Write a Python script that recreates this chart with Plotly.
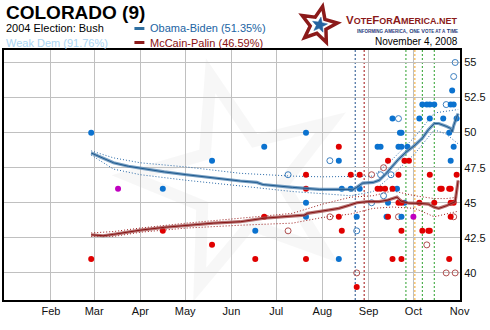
import math
import plotly.graph_objects as go

# ---------------- poll results ----------------
obama_dates = ['2008-02-28', '2008-04-16', '2008-05-19', '2008-06-17', '2008-06-23',
               '2008-07-21', '2008-07-21', '2008-07-21', '2008-08-12', '2008-08-12',
               '2008-08-14', '2008-08-20', '2008-08-24', '2008-08-26', '2008-09-07',
               '2008-09-09', '2008-09-13', '2008-09-14', '2008-09-17', '2008-09-20',
               '2008-09-21', '2008-09-22', '2008-09-23', '2008-09-23', '2008-09-23',
               '2008-09-25', '2008-09-27', '2008-10-05', '2008-10-07', '2008-10-10',
               '2008-10-12', '2008-10-12', '2008-10-15', '2008-10-21', '2008-10-25',
               '2008-10-26', '2008-10-26', '2008-10-27', '2008-10-28', '2008-10-28',
               '2008-10-30']
obama_vals = [50, 46, 48, 43, 49,
              50, 45, 44, 48, 41,
              46, 46, 44, 46, 49,
              49, 44, 45, 51, 46,
              49, 50, 50, 49, 44,
              45, 49, 51, 52, 52,
              52, 51, 52, 51, 50,
              52, 48, 53, 52, 49,
              51]

obama_open_dates = ['2008-07-09', '2008-08-06', '2008-08-24', '2008-09-03', '2008-09-09',
                    '2008-09-11', '2008-09-16', '2008-09-21', '2008-10-23', '2008-10-28',
                    '2008-10-29']
obama_open_vals = [47, 48, 43, 45, 47, 45.5, 47, 51, 52, 54, 55]

mccain_dates = ['2008-02-28', '2008-04-16', '2008-05-19', '2008-06-17', '2008-06-23',
                '2008-07-21', '2008-07-21', '2008-07-21', '2008-08-12', '2008-08-12',
                '2008-08-14', '2008-08-20', '2008-08-24', '2008-08-26', '2008-09-07',
                '2008-09-09', '2008-09-12', '2008-09-14', '2008-09-14', '2008-09-17',
                '2008-09-17', '2008-09-21', '2008-09-21', '2008-09-23', '2008-09-23',
                '2008-09-23', '2008-09-25', '2008-09-28', '2008-10-05', '2008-10-07',
                '2008-10-11', '2008-10-12', '2008-10-12', '2008-10-15', '2008-10-19',
                '2008-10-20', '2008-10-25', '2008-10-25', '2008-10-26', '2008-10-26',
                '2008-10-26', '2008-10-28', '2008-10-30']
mccain_vals = [41, 43, 42, 41, 44,
               47, 46, 41, 49, 44,
               43, 47, 39, 47, 46,
               46, 46, 48, 44, 46,
               41, 47, 45, 45, 43,
               41, 48, 48, 45, 43,
               43, 47, 43, 45, 46,
               46, 46, 41, 46, 45,
               44, 45, 47]

mccain_open_dates = ['2008-07-09', '2008-08-06', '2008-08-24', '2008-09-03', '2008-09-11',
                     '2008-09-21', '2008-10-10', '2008-10-23', '2008-10-28', '2008-10-29']
mccain_open_vals = [43, 44, 40, 47, 47.5, 44, 42, 40, 44, 40]

# polls where both candidates had the same share
tie_dates = ['2008-03-17', '2008-10-01']
tie_vals = [46, 44]

# ---------------- trend estimates ----------------
obama_trend_dates = ['2008-02-28', '2008-03-07', '2008-03-14', '2008-03-24', '2008-04-01',
                     '2008-04-17', '2008-05-02', '2008-05-20', '2008-06-07', '2008-06-18',
                     '2008-06-22', '2008-07-12', '2008-07-21', '2008-07-30', '2008-08-19',
                     '2008-08-21', '2008-08-24', '2008-08-28', '2008-09-04', '2008-09-08',
                     '2008-09-12', '2008-09-17', '2008-09-21', '2008-09-26', '2008-10-02',
                     '2008-10-07', '2008-10-11', '2008-10-15', '2008-10-18', '2008-10-23',
                     '2008-10-26', '2008-10-27', '2008-10-28', '2008-10-30', '2008-10-31']
obama_trend = [48.55, 48.15, 47.85, 47.6, 47.45,
               47.2, 47.0, 46.75, 46.55, 46.45,
               46.3, 46.1, 46.05, 45.95, 45.95,
               45.9, 46.1, 46.4, 46.45, 46.6,
               47.0, 47.6, 48.1, 48.6, 49.1,
               49.6, 50.2, 50.65, 50.65, 50.45,
               50.3, 50.05, 50.5, 51.1, 51.35]

mccain_trend_dates = ['2008-02-28', '2008-03-07', '2008-03-14', '2008-04-01', '2008-04-17',
                      '2008-05-02', '2008-05-20', '2008-06-07', '2008-06-23', '2008-07-20',
                      '2008-07-22', '2008-08-05', '2008-08-12', '2008-08-19', '2008-08-24',
                      '2008-08-31', '2008-09-08', '2008-09-14', '2008-09-20', '2008-09-23',
                      '2008-09-28', '2008-10-05', '2008-10-11', '2008-10-15', '2008-10-18',
                      '2008-10-23', '2008-10-27', '2008-10-29', '2008-10-31']
mccain_trend = [42.72, 42.65, 42.75, 43.05, 43.25,
                43.4, 43.55, 43.65, 43.9, 44.12,
                44.25, 44.48, 44.6, 44.82, 45.0,
                45.08, 45.08, 45.2, 45.4, 45.1,
                44.97, 44.96, 44.9, 44.68, 44.6,
                44.78, 44.96, 45.08, 46.59]

# confidence band around each trend
band_dates = ['2008-02-28', '2008-03-14', '2008-04-01', '2008-05-02', '2008-06-07',
              '2008-07-12', '2008-08-01', '2008-08-20', '2008-09-04', '2008-09-17',
              '2008-10-02', '2008-10-15', '2008-10-23', '2008-10-31']
obama_hi = [48.7, 48.2, 47.85, 47.55, 47.1, 46.9, 46.85, 46.85, 46.9, 48.1, 49.7, 51.4, 51.5, 51.65]
obama_lo = [48.4, 47.4, 47.0, 46.6, 46.2, 45.8, 45.65, 45.5, 45.8, 47.0, 48.5, 50.2, 49.9, 49.2]
mccain_hi = [42.85, 42.95, 43.2, 43.55, 43.9, 44.25, 44.9, 45.4, 45.5, 45.85, 45.5, 45.3, 45.3, 45.4]
mccain_lo = [42.6, 42.6, 42.9, 43.2, 43.4, 43.55, 43.95, 44.2, 44.6, 44.7, 44.6, 44.0, 44.2, 44.4]

# campaign events: VP picks and debates
event_dates = ['2008-08-23', '2008-08-29', '2008-09-26', '2008-10-02', '2008-10-07', '2008-10-15']
event_colors = ['#1f4e8c', '#a01010', '#2ca02c', '#f5a623', '#2ca02c', '#2ca02c']

month_ticks = ['2008-02-01', '2008-03-01', '2008-04-01', '2008-05-01', '2008-06-01',
               '2008-07-01', '2008-08-01', '2008-09-01', '2008-10-01', '2008-11-01']
y_ticks = [40, 42.5, 45, 47.5, 50, 52.5, 55]

OBAMA_BLUE = '#0b72cf'
MCCAIN_RED = '#e00000'
FONT = 'Liberation Sans, Arial, sans-serif'

# plot frame in pixels (used to place header items in paper units)
PL, PR, PT, PB = 2, 460, 50, 300
W, H = 490, 330


def px(x):
    return (x - PL) / (PR - PL)


def py(y):
    return (PB - y) / (PB - PT)


def star_path(cx, cy, R, r, rot):
    pts = []
    for i in range(10):
        a = math.radians(rot + i * 36)
        rad = R if i % 2 == 0 else r
        pts.append((cx + rad * math.cos(a), cy + rad * math.sin(a)))
    return 'M ' + ' L '.join(f'{px(x):.5f},{py(y):.5f}' for x, y in pts) + ' Z'


fig = go.Figure()

# dotted confidence bands
for hi, lo, col in [(obama_hi, obama_lo, '#2a6aa8'), (mccain_hi, mccain_lo, '#9b1c1c')]:
    for vals in (hi, lo):
        fig.add_trace(go.Scatter(x=band_dates, y=vals, mode='lines',
                                 line=dict(color=col, width=1, dash='1px,2px'),
                                 hoverinfo='skip', showlegend=False))

# poll markers
fig.add_trace(go.Scatter(x=obama_open_dates, y=obama_open_vals, mode='markers',
                         marker=dict(symbol='circle-open', size=6, color='#3d7fbf',
                                     line=dict(width=1)), showlegend=False))
fig.add_trace(go.Scatter(x=mccain_open_dates, y=mccain_open_vals, mode='markers',
                         marker=dict(symbol='circle-open', size=6, color='#b05050',
                                     line=dict(width=1)), showlegend=False))
fig.add_trace(go.Scatter(x=obama_dates, y=obama_vals, mode='markers',
                         marker=dict(size=6, color=OBAMA_BLUE), showlegend=False))
fig.add_trace(go.Scatter(x=mccain_dates, y=mccain_vals, mode='markers',
                         marker=dict(size=6, color=MCCAIN_RED), showlegend=False))
fig.add_trace(go.Scatter(x=tie_dates, y=tie_vals, mode='markers',
                         marker=dict(size=6, color='#c000c0'), showlegend=False))

# trend lines: soft halo plus darker core
for d, v, halo, core in [(obama_trend_dates, obama_trend, 'rgba(85,135,180,0.8)', '#1f5a8e'),
                         (mccain_trend_dates, mccain_trend, 'rgba(165,80,80,0.8)', '#861414')]:
    fig.add_trace(go.Scatter(x=d, y=v, mode='lines', line=dict(color=halo, width=3.2),
                             hoverinfo='skip', showlegend=False))
    fig.add_trace(go.Scatter(x=d, y=v, mode='lines', line=dict(color=core, width=1),
                             hoverinfo='skip', showlegend=False))

shapes = []
# faint watermark star
shapes.append(dict(type='path', xref='paper', yref='paper', layer='below',
                   path=star_path(238, 182, 110, 44, -105),
                   line=dict(color='rgba(0,0,0,0.03)', width=12), fillcolor='rgba(0,0,0,0)'))
# event markers
for d, c in zip(event_dates, event_colors):
    shapes.append(dict(type='line', xref='x', yref='paper', x0=d, x1=d, y0=0, y1=1,
                       layer='between', line=dict(color=c, width=1, dash='2px,2px')))
# legend swatches
shapes.append(dict(type='line', xref='paper', yref='paper', x0=px(133), x1=px(143),
                   y0=py(28.5), y1=py(28.5), line=dict(color='#2f6fa0', width=3)))
shapes.append(dict(type='line', xref='paper', yref='paper', x0=px(133), x1=px(143),
                   y0=py(42.5), y1=py(42.5), line=dict(color='#8b1a1a', width=3)))
# logo star
shapes.append(dict(type='path', xref='paper', yref='paper',
                   path=star_path(318, 25, 19, 8.5, -78),
                   line=dict(color='#8b1a1a', width=3.5), fillcolor='white'))
shapes.append(dict(type='path', xref='paper', yref='paper',
                   path=star_path(319, 25, 8, 3.4, -80),
                   line=dict(color='#2563a0', width=0.5), fillcolor='#2563a0'))


def note(text, x, y, size, color='#000000', anchor='left'):
    return dict(text=text, xref='paper', yref='paper', x=px(x), y=py(y),
                xanchor=anchor, yanchor='middle', showarrow=False,
                font=dict(family=FONT, size=size, color=color))


sc = '<span style="font-size:9px">'
tg = '<span style="font-size:4.5px">'
annotations = [
    note('<b>COLORADO (9)</b>', 2, 12, 19),
    note('2004 Election: Bush', 2, 28.5, 11),
    note('Weak Dem (91.76%)', 2, 43, 11, '#a9d4f2'),
    note('Obama-Biden (51.35%)', 147, 28.5, 11, '#2164a3'),
    note('McCain-Palin (46.59%)', 147, 43, 11, '#8b1111'),
    note('<b>V' + sc + 'OTE</span>F' + sc + 'OR</span>A' + sc + 'MERICA.NET</span></b>',
         460, 20, 11.5, '#8b1a1a', 'right'),
    note('<b>I' + tg + 'NFORMING</span> A' + tg + 'MERICA</span>, O' + tg + 'NE</span> V'
         + tg + 'OTE AT A</span> T' + tg + 'IME</span></b>', 460, 31, 5.5, '#1f3a7a', 'right'),
    note('November 4, 2008', 460, 41.5, 10, '#000000', 'right'),
]

fig.update_layout(
    width=W, height=H,
    margin=dict(l=PL, r=W - PR, t=PT, b=H - PB, pad=0),
    paper_bgcolor='white', plot_bgcolor='white',
    font=dict(family=FONT, size=11, color='#111111'),
    shapes=shapes, annotations=annotations,
    showlegend=False,
)
fig.update_xaxes(type='date', range=['2007-12-31 13:00', '2008-11-01 06:00'],
                 tickvals=month_ticks, tickformat='%b', ticks='',
                 showgrid=True, gridcolor='#c0c0c0', gridwidth=1,
                 showline=True, linecolor='black', linewidth=2, mirror=True,
                 zeroline=False, tickfont=dict(size=11, color='#111111'))
fig.update_yaxes(range=[38.07, 55.89], tickvals=y_ticks, side='right', ticks='',
                 showgrid=True, gridcolor='#c0c0c0', gridwidth=1,
                 showline=True, linecolor='black', linewidth=2, mirror=True,
                 zeroline=False, tickfont=dict(size=11, color='#111111'))

fig.write_html('out.html')
